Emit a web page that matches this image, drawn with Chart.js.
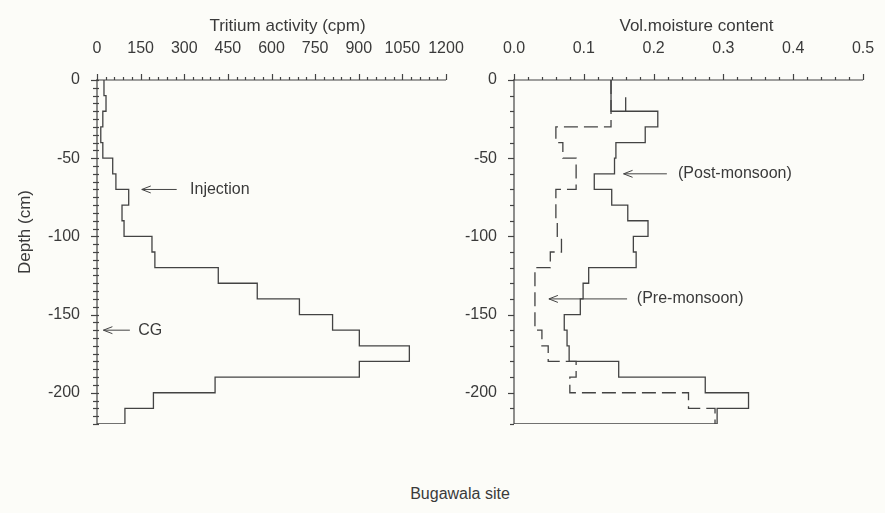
<!DOCTYPE html>
<html>
<head>
<meta charset="utf-8">
<title>Bugawala site</title>
<script src="https://cdn.jsdelivr.net/npm/chart.js@4.4.1/dist/chart.umd.min.js"></script>
<style>
  html, body { margin: 0; padding: 0; background: #fcfcf8; }
  #wrap { position: relative; width: 885px; height: 513px; overflow: hidden; }
  #tritium { position: absolute; left: 0; top: 0; }
  #moisture { position: absolute; left: 460px; top: 0; }
  #site {
    position: absolute; left: 0; width: 920px; top: 485px;
    text-align: center; font: 16px "Liberation Sans", Arial, sans-serif; color: #3a3a3a;
  }
</style>
</head>
<body>
<div id="wrap">
  <canvas id="tritium" width="476" height="440"></canvas>
  <canvas id="moisture" width="425" height="440"></canvas>
  <div id="site">Bugawala site</div>
</div>
<script>
// depth interval boundaries (cm), 10 cm layers
const depths = [0, -10, -20, -30, -40, -50, -60, -70, -80, -90, -100, -110,
  -120, -130, -140, -150, -160, -170, -180, -190, -200, -210, -220];

// tritium activity per layer (cpm)
const tritium = [24, 31, 20, 13, 20, 54, 65, 109, 86, 93, 189, 199,
  417, 551, 696, 810, 902, 1074, 902, 406, 194, 96];

// volumetric moisture content per layer
const postMonsoon = [0.139, 0.139, 0.206, 0.188, 0.146, 0.144, 0.115, 0.140, 0.163, 0.192, 0.171,
  0.175, 0.107, 0.099, 0.095, 0.072, 0.076, 0.079, 0.150, 0.274, 0.336, 0.291];
const preMonsoon = [0.139, 0.139, 0.139, 0.060, 0.070, 0.089, 0.089, 0.060, 0.060, 0.062, 0.068,
  0.052, 0.030, 0.030, 0.030, 0.030, 0.040, 0.049, 0.089, 0.080, 0.250, 0.288];
// short stray stroke near the top of the post-monsoon profile
const strayX = [0.160, 0.160];
const strayDepth = [-11, -20];

const tritiumTicks = [0, 150, 300, 450, 600, 750, 900, 1050, 1200];
const moistureTicks = [0.0, 0.1, 0.2, 0.3, 0.4, 0.5];
const depthTicks = [0, -50, -100, -150, -200];

const INK = '#434343';
const TEXT = '#3a3a3a';
const FONT = '"Liberation Sans", Arial, sans-serif';

// step profile: each layer drawn as a vertical segment, layers joined horizontally
function profile(vals, closeToAxis) {
  const pts = [];
  vals.forEach((v, i) => {
    pts.push({ x: v, y: depths[i] });
    pts.push({ x: v, y: depths[i + 1] });
  });
  if (closeToAxis) pts.push({ x: 0, y: depths[depths.length - 1] });
  return pts;
}

// axis lines, major/minor tick marks, titles and arrow notes
const decor = {
  id: 'decor',
  afterDraw(chart, args, o) {
    const { ctx, chartArea: a, scales: { x, y } } = chart;
    ctx.save();
    ctx.strokeStyle = INK;
    ctx.lineWidth = 1.2;
    const line = (x1, y1, x2, y2) => {
      ctx.beginPath(); ctx.moveTo(x1, y1); ctx.lineTo(x2, y2); ctx.stroke();
    };
    line(a.left, a.top, a.right, a.top);
    line(a.left, a.top - 1, a.left, a.bottom);

    const isMajor = (v, m) => Math.abs(v / m - Math.round(v / m)) < 1e-6;
    let n = Math.round((x.max - x.min) / o.xMinor);
    for (let i = 0; i <= n; i++) {
      const v = x.min + i * o.xMinor;
      const px = Math.round(x.getPixelForValue(v)) + 0.5;
      line(px, a.top, px, a.top - (isMajor(v, o.xMajor) ? 6 : 3));
    }
    n = Math.round((y.max - y.min) / o.yMinor);
    for (let i = 0; i <= n; i++) {
      const v = y.max - i * o.yMinor;
      const py = Math.round(y.getPixelForValue(v)) + 0.5;
      const major = isMajor(v, o.yMajor);
      line(a.left - (major ? 6 : 4), py, a.left + o.yInside, py);
    }

    ctx.fillStyle = TEXT;
    ctx.font = '17px ' + FONT;
    ctx.textAlign = 'center';
    ctx.textBaseline = 'middle';
    ctx.fillText(o.title, (a.left + a.right) / 2 + o.titleDx, 26);
    if (o.yTitle) {
      ctx.save();
      ctx.translate(25, 232);
      ctx.rotate(-Math.PI / 2);
      ctx.fillText(o.yTitle, 0, 0);
      ctx.restore();
    }

    ctx.font = '16px ' + FONT;
    ctx.lineWidth = 1;
    o.notes.forEach((nt) => {
      const py = y.getPixelForValue(nt.depth);
      const x1 = x.getPixelForValue(nt.from);
      const x2 = x.getPixelForValue(nt.to);
      line(x1, py, x2, py);
      ctx.beginPath();
      ctx.moveTo(x2 + 9, py - 3.5);
      ctx.lineTo(x2, py);
      ctx.lineTo(x2 + 9, py + 3.5);
      ctx.stroke();
      ctx.textAlign = 'left';
      ctx.fillText(nt.label, x.getPixelForValue(nt.textAt), py);
    });
    ctx.restore();
  },
};

function baseOptions(xMin, xMax, xStep, xFmt, yWidth, padRight, decorOpts) {
  return {
    responsive: false,
    animation: false,
    layout: { padding: { left: 0, top: 0, right: padRight, bottom: 16 } },
    plugins: { legend: { display: false }, tooltip: { enabled: false }, decor: decorOpts },
    elements: { point: { radius: 0 }, line: { tension: 0 } },
    scales: {
      x: {
        type: 'linear', position: 'top', min: xMin, max: xMax,
        grid: { display: false, drawTicks: false }, border: { display: false },
        ticks: { stepSize: xStep, padding: 22, color: TEXT, font: { family: FONT, size: 16 },
          maxRotation: 0, autoSkip: false, callback: xFmt },
        afterFit: (s) => {
          s.height = 80;
          s.paddingLeft = 0; s.paddingRight = 0;
        },
      },
      y: {
        type: 'linear', min: depths[depths.length - 1], max: 0,
        grid: { display: false, drawTicks: false }, border: { display: false },
        ticks: { stepSize: 50, padding: 17, color: TEXT, font: { family: FONT, size: 16 },
          autoSkip: false,
          callback: (v) => (depthTicks.includes(v) ? String(v) : '') },
        afterFit: (s) => {
          s.width = yWidth;
          s.paddingTop = 0; s.paddingBottom = 0;
        },
      },
    },
  };
}

new Chart(document.getElementById('tritium'), {
  type: 'scatter',
  data: {
    datasets: [{
      data: profile(tritium, true), showLine: true,
      borderColor: INK, borderWidth: 1.3, fill: false,
    }],
  },
  options: baseOptions(tritiumTicks[0], tritiumTicks[tritiumTicks.length - 1], 150,
    (v) => (tritiumTicks.includes(v) ? String(v) : ''), 97, 30, {
      title: 'Tritium activity (cpm)', titleDx: 16, yTitle: 'Depth (cm)',
      xMinor: 30, xMajor: 150, yMinor: 5, yMajor: 50, yInside: 2,
      notes: [
        { depth: -70, from: 274, to: 154, textAt: 320, label: 'Injection' },
        { depth: -160, from: 113, to: 22, textAt: 142, label: 'CG' },
      ],
    }),
  plugins: [decor],
});

new Chart(document.getElementById('moisture'), {
  type: 'scatter',
  data: {
    datasets: [
      {
        data: profile(postMonsoon, true), showLine: true,
        borderColor: INK, borderWidth: 1.3, fill: false,
      },
      {
        data: strayX.map((v, i) => ({ x: v, y: strayDepth[i] })), showLine: true,
        borderColor: INK, borderWidth: 1.3, fill: false,
      },
      {
        data: profile(preMonsoon, false), showLine: true,
        borderColor: INK, borderWidth: 1.3, borderDash: [14, 6], fill: false,
      },
    ],
  },
  options: baseOptions(moistureTicks[0], moistureTicks[moistureTicks.length - 1], 0.1,
    (v) => v.toFixed(1), 54, 22, {
      title: 'Vol.moisture content', titleDx: 8, yTitle: '',
      xMinor: 0.02, xMajor: 0.1, yMinor: 10, yMajor: 50, yInside: 0,
      notes: [
        { depth: -60, from: 0.219, to: 0.157, textAt: 0.235, label: '(Post-monsoon)' },
        { depth: -140, from: 0.162, to: 0.050, textAt: 0.176, label: '(Pre-monsoon)' },
      ],
    }),
  plugins: [decor],
});
</script>
</body>
</html>
